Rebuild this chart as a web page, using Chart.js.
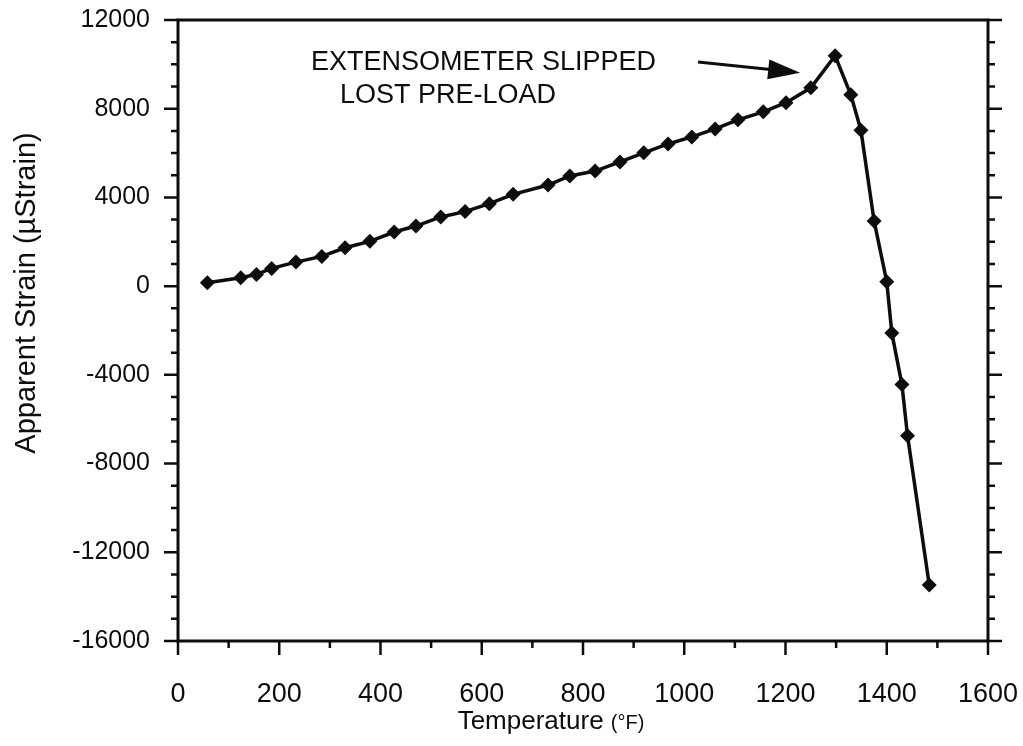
<!DOCTYPE html>
<html>
<head>
<meta charset="utf-8">
<script src="https://cdn.jsdelivr.net/npm/chart.js@4.4.1/dist/chart.umd.min.js"></script>
<style>
  html, body { margin: 0; padding: 0; background: #fff; }
  #wrap { width: 1023px; height: 746px; position: relative; }
</style>
</head>
<body>
<div id="wrap"><canvas id="strainChart"></canvas></div>
<script>
// Apparent strain vs temperature
const temperatures = [58, 124, 155, 185, 233, 284, 330, 379, 427, 470, 519, 567, 615, 662, 731, 774, 824, 873, 920, 968,
  1015, 1061, 1106, 1156, 1201, 1250, 1298, 1329, 1349, 1375, 1400, 1410, 1430, 1441, 1484];
const strains = [150, 375, 530, 800, 1085, 1340, 1730, 2020, 2440, 2710, 3120, 3360, 3720, 4140, 4560, 4970, 5190, 5600, 6010, 6410,
  6730, 7090, 7500, 7860, 8270, 8940, 10390, 8630, 7030, 2940, 200, -2110, -4440, -6740, -13470];

const xTicks = [0, 200, 400, 600, 800, 1000, 1200, 1400, 1600];
const yTicks = [12000, 8000, 4000, 0, -4000, -8000, -12000, -16000];
const xMinorStep = 100;
const yMinorStep = 1000;

const noteLines = ['EXTENSOMETER SLIPPED', 'LOST PRE-LOAD'];
const xTitle = 'Temperature';
const xUnit = '(°F)';
const yTitle = 'Apparent Strain (µStrain)';

const INK = '#0d0d0d';
const FONT = '"Liberation Sans", Arial, Helvetica, sans-serif';

// ticks on all sides, frame, titles and the note arrow
const framePlugin = {
  id: 'frame',
  afterDraw(chart) {
    const ctx = chart.ctx;
    const a = chart.chartArea;
    const xs = chart.scales.x;
    const ys = chart.scales.y;
    ctx.save();
    ctx.strokeStyle = INK;
    ctx.lineWidth = 3;
    ctx.strokeRect(a.left, a.top, a.right - a.left, a.bottom - a.top);

    ctx.lineWidth = 2.5;
    ctx.beginPath();
    for (let v = ys.min; v <= ys.max; v += yMinorStep) {
      const py = ys.getPixelForValue(v);
      const len = v % 4000 === 0 ? 14 : 7;
      ctx.moveTo(a.left, py); ctx.lineTo(a.left - len, py);
      ctx.moveTo(a.right, py); ctx.lineTo(a.right + len, py);
    }
    for (let v = xs.min; v <= xs.max; v += xMinorStep) {
      const px = xs.getPixelForValue(v);
      const len = v % 200 === 0 ? 14 : 7;
      ctx.moveTo(px, a.bottom); ctx.lineTo(px, a.bottom + len);
    }
    ctx.stroke();

    // x title with smaller unit
    ctx.fillStyle = INK;
    ctx.textBaseline = 'alphabetic';
    ctx.textAlign = 'left';
    ctx.font = '26px ' + FONT;
    const w1 = ctx.measureText(xTitle + ' ').width;
    ctx.font = '20px ' + FONT;
    const w2 = ctx.measureText(xUnit).width;
    const tx = 551 - (w1 + w2) / 2;
    ctx.font = '26px ' + FONT;
    ctx.fillText(xTitle, tx, 729);
    ctx.font = '20px ' + FONT;
    ctx.fillText(xUnit, tx + w1, 729);

    // y title
    ctx.save();
    ctx.translate(35, 293);
    ctx.rotate(-Math.PI / 2);
    ctx.textAlign = 'center';
    ctx.font = '29px ' + FONT;
    ctx.fillText(yTitle, 0, 0);
    ctx.restore();

    // note
    ctx.font = '27px ' + FONT;
    ctx.textAlign = 'left';
    ctx.fillText(noteLines[0], 311, 70);
    ctx.fillText(noteLines[1], 340, 103);

    // arrow toward the peak
    const peak = strains.indexOf(Math.max(...strains));
    const pkX = xs.getPixelForValue(temperatures[peak]);
    const pkY = ys.getPixelForValue(strains[peak]);
    const tipX = pkX - 35, tipY = pkY + 17;
    const tailX = 698, tailY = 62;
    const ang = Math.atan2(tipY - tailY, tipX - tailX);
    ctx.lineWidth = 3;
    ctx.beginPath();
    ctx.moveTo(tailX, tailY);
    ctx.lineTo(tipX - 25 * Math.cos(ang), tipY - 25 * Math.sin(ang));
    ctx.stroke();
    ctx.beginPath();
    ctx.moveTo(tipX, tipY);
    ctx.lineTo(tipX - 32 * Math.cos(ang) + 10 * Math.sin(ang), tipY - 32 * Math.sin(ang) - 10 * Math.cos(ang));
    ctx.lineTo(tipX - 32 * Math.cos(ang) - 10 * Math.sin(ang), tipY - 32 * Math.sin(ang) + 10 * Math.cos(ang));
    ctx.closePath();
    ctx.fill();
    ctx.restore();
  }
};

document.addEventListener('DOMContentLoaded', () => {
  const ctx = document.getElementById('strainChart').getContext('2d');
  new Chart(ctx, {
    type: 'scatter',
    data: {
      datasets: [{
        data: temperatures.map((t, i) => ({ x: t, y: strains[i] })),
        showLine: true,
        borderColor: INK,
        borderWidth: 3.5,
        backgroundColor: INK,
        pointStyle: 'rectRot',
        pointRadius: 7.5,
        pointBorderWidth: 0,
        pointBackgroundColor: INK
      }]
    },
    options: {
      responsive: true,
      maintainAspectRatio: false,
      animation: false,
      layout: { padding: { top: 20, right: 35, left: 0, bottom: 0 } },
      plugins: {
        legend: { display: false },
        tooltip: { enabled: false }
      },
      scales: {
        x: {
          type: 'linear',
          min: 0,
          max: 1600,
          afterBuildTicks: (scale) => { scale.ticks = xTicks.map(v => ({ value: v })); },
          afterFit: (scale) => {
            scale.height = 105;
            scale.paddingLeft = 0;
            scale.paddingRight = 0;
          },
          grid: { display: false },
          border: { display: false },
          ticks: {
            color: INK,
            font: { family: FONT, size: 27 },
            padding: 29,
            maxRotation: 0,
            callback: (v) => String(v)
          }
        },
        y: {
          type: 'linear',
          min: -16000,
          max: 12000,
          afterBuildTicks: (scale) => { scale.ticks = yTicks.map(v => ({ value: v })); },
          afterFit: (scale) => {
            scale.width = 178;
            scale.paddingTop = 0;
            scale.paddingBottom = 0;
          },
          grid: { display: false },
          border: { display: false },
          ticks: {
            color: INK,
            font: { family: FONT, size: 25 },
            padding: 20,
            callback: (v) => String(v)
          }
        }
      }
    },
    plugins: [framePlugin]
  });
});
</script>
</body>
</html>
